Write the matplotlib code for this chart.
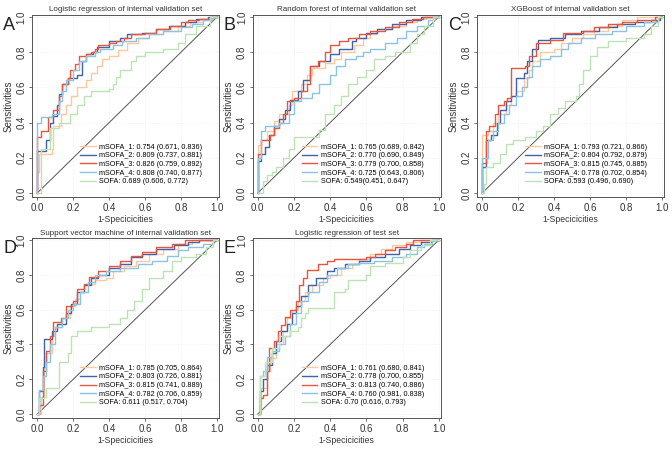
import matplotlib.pyplot as plt

plt.rcParams['font.family'] = ['Liberation Sans', 'DejaVu Sans']

# series names / colours
series = ['mSOFA_1', 'mSOFA_2', 'mSOFA_3', 'mSOFA_4', 'SOFA']
colors = ['#fdc7a0', '#4262a8', '#e8553f', '#8cc3df', '#bde2b4']

# ROC corners (1-specificity, sensitivity)
# panel A - logistic regression, internal validation
A_m1 = [(0, 0), (0, 0.12), (0.01, 0.22), (0.08, 0.25), (0.09, 0.38), (0.13, 0.45), (0.16, 0.50), (0.19, 0.55),
        (0.22, 0.60), (0.27, 0.64), (0.30, 0.68), (0.33, 0.72), (0.36, 0.76), (0.40, 0.78), (0.45, 0.81),
        (0.50, 0.85), (0.56, 0.88), (0.62, 0.90), (0.70, 0.92), (0.78, 0.95), (0.85, 0.97), (0.92, 0.99), (0.97, 1.0), (1, 1)]
A_m2 = [(0, 0), (0, 0.24), (0.05, 0.30), (0.07, 0.40), (0.09, 0.44), (0.11, 0.50), (0.12, 0.56), (0.14, 0.62),
        (0.17, 0.65), (0.22, 0.67), (0.25, 0.75), (0.27, 0.79), (0.31, 0.80), (0.33, 0.83), (0.40, 0.86),
        (0.46, 0.88), (0.50, 0.90), (0.58, 0.91), (0.66, 0.93), (0.73, 0.95), (0.82, 0.97), (0.88, 0.99), (0.95, 1.0), (1, 1)]
A_m3 = [(0, 0), (0, 0.32), (0.02, 0.35), (0.06, 0.43), (0.09, 0.47), (0.12, 0.55), (0.14, 0.62), (0.17, 0.65),
        (0.18, 0.70), (0.21, 0.73), (0.23, 0.78), (0.27, 0.79), (0.30, 0.80), (0.32, 0.82), (0.34, 0.84),
        (0.40, 0.85), (0.44, 0.86), (0.48, 0.88), (0.52, 0.90), (0.60, 0.91), (0.66, 0.93), (0.74, 0.95),
        (0.80, 0.97), (0.84, 0.98), (0.90, 0.99), (0.96, 1.0), (1, 1)]
A_m4 = [(0, 0), (0, 0.40), (0.02, 0.43), (0.08, 0.45), (0.12, 0.52), (0.14, 0.58), (0.16, 0.64), (0.20, 0.70),
        (0.23, 0.75), (0.27, 0.78), (0.32, 0.80), (0.35, 0.82), (0.42, 0.84), (0.47, 0.86), (0.55, 0.88),
        (0.62, 0.90), (0.70, 0.92), (0.80, 0.94), (0.86, 0.96), (0.92, 0.98), (0.97, 1.0), (1, 1)]
A_sofa = [(0, 0), (0.02, 0.25), (0.07, 0.37), (0.12, 0.40), (0.18, 0.45), (0.22, 0.50), (0.26, 0.55), (0.30, 0.58),
          (0.40, 0.59), (0.42, 0.62), (0.44, 0.66), (0.46, 0.70), (0.52, 0.75), (0.55, 0.78), (0.60, 0.80),
          (0.70, 0.82), (0.78, 0.85), (0.82, 0.90), (0.88, 0.95), (0.96, 1.0), (1, 1)]

# panel B - random forest, internal validation
B_m1 = [(0, 0), (0, 0.27), (0.02, 0.30), (0.05, 0.35), (0.09, 0.41), (0.12, 0.45), (0.17, 0.50), (0.19, 0.58),
        (0.24, 0.62), (0.27, 0.67), (0.30, 0.71), (0.37, 0.74), (0.42, 0.76), (0.46, 0.80), (0.53, 0.84),
        (0.58, 0.88), (0.62, 0.90), (0.66, 0.93), (0.74, 0.95), (0.82, 0.97), (0.88, 0.99), (0.93, 1.0), (1, 1)]
B_m2 = [(0, 0), (0, 0.18), (0.02, 0.22), (0.04, 0.26), (0.06, 0.33), (0.09, 0.38), (0.12, 0.42), (0.15, 0.47),
        (0.18, 0.53), (0.22, 0.58), (0.25, 0.64), (0.29, 0.72), (0.34, 0.75), (0.40, 0.79), (0.45, 0.82),
        (0.52, 0.86), (0.54, 0.88), (0.60, 0.91), (0.66, 0.93), (0.74, 0.96), (0.82, 0.98), (0.90, 1.0), (1, 1)]
B_m3 = [(0, 0), (0, 0.22), (0.02, 0.30), (0.07, 0.33), (0.09, 0.37), (0.12, 0.40), (0.14, 0.45), (0.16, 0.52),
        (0.20, 0.54), (0.24, 0.58), (0.27, 0.62), (0.29, 0.72), (0.33, 0.75), (0.37, 0.80), (0.40, 0.84),
        (0.45, 0.86), (0.50, 0.88), (0.56, 0.90), (0.62, 0.92), (0.70, 0.94), (0.78, 0.97), (0.85, 0.99), (0.91, 1.0), (1, 1)]
B_m4 = [(0, 0), (0, 0.20), (0.02, 0.35), (0.04, 0.38), (0.12, 0.40), (0.17, 0.45), (0.20, 0.52), (0.24, 0.54),
        (0.30, 0.57), (0.34, 0.62), (0.40, 0.67), (0.43, 0.72), (0.48, 0.76), (0.54, 0.78), (0.58, 0.80),
        (0.62, 0.82), (0.70, 0.85), (0.77, 0.88), (0.82, 0.92), (0.88, 0.95), (0.94, 0.98), (0.98, 1.0), (1, 1)]
B_sofa = [(0, 0), (0.02, 0.0), (0.03, 0.07), (0.05, 0.10), (0.08, 0.12), (0.10, 0.15), (0.14, 0.20), (0.17, 0.25),
          (0.20, 0.32), (0.30, 0.32), (0.34, 0.36), (0.37, 0.45), (0.42, 0.50), (0.46, 0.55), (0.50, 0.62),
          (0.55, 0.66), (0.60, 0.70), (0.64, 0.76), (0.70, 0.78), (0.76, 0.80), (0.84, 0.85), (0.88, 0.90),
          (0.92, 0.95), (0.97, 1.0), (1, 1)]

# panel C - XGBoost, internal validation
C_m1 = [(0, 0), (0, 0.33), (0.03, 0.35), (0.06, 0.40), (0.09, 0.45), (0.13, 0.50), (0.16, 0.55), (0.19, 0.58),
        (0.23, 0.65), (0.26, 0.70), (0.28, 0.75), (0.32, 0.80), (0.40, 0.82), (0.44, 0.85), (0.50, 0.88),
        (0.56, 0.90), (0.62, 0.92), (0.70, 0.95), (0.78, 0.98), (0.86, 1.0), (1, 1)]
C_m2 = [(0, 0), (0, 0.15), (0.02, 0.30), (0.05, 0.33), (0.08, 0.40), (0.10, 0.47), (0.13, 0.52), (0.16, 0.55),
        (0.19, 0.65), (0.23, 0.68), (0.25, 0.75), (0.28, 0.82), (0.31, 0.87), (0.38, 0.88), (0.46, 0.90),
        (0.55, 0.92), (0.65, 0.94), (0.75, 0.96), (0.85, 0.97), (0.94, 0.98), (0.99, 1.0), (1, 1)]
C_m3 = [(0, 0), (0, 0.17), (0.02, 0.35), (0.04, 0.38), (0.07, 0.45), (0.09, 0.50), (0.12, 0.52), (0.14, 0.54),
        (0.16, 0.71), (0.24, 0.72), (0.26, 0.78), (0.30, 0.85), (0.38, 0.87), (0.45, 0.91), (0.56, 0.92),
        (0.62, 0.94), (0.70, 0.96), (0.78, 0.97), (0.86, 0.98), (0.96, 1.0), (1, 1)]
C_m4 = [(0, 0), (0, 0.20), (0.03, 0.30), (0.06, 0.35), (0.09, 0.40), (0.12, 0.45), (0.15, 0.50), (0.19, 0.55),
        (0.22, 0.60), (0.25, 0.66), (0.28, 0.72), (0.32, 0.76), (0.38, 0.78), (0.44, 0.82), (0.48, 0.85),
        (0.55, 0.88), (0.63, 0.90), (0.72, 0.92), (0.80, 0.95), (0.90, 0.97), (0.98, 1.0), (1, 1)]
C_sofa = [(0, 0), (0.01, 0.05), (0.02, 0.15), (0.06, 0.17), (0.10, 0.22), (0.13, 0.28), (0.17, 0.30), (0.24, 0.32),
          (0.30, 0.35), (0.34, 0.38), (0.38, 0.45), (0.42, 0.48), (0.46, 0.52), (0.52, 0.55), (0.54, 0.62),
          (0.56, 0.70), (0.60, 0.78), (0.64, 0.83), (0.70, 0.86), (0.80, 0.88), (0.90, 0.90), (0.94, 0.95), (0.98, 1.0), (1, 1)]

# panel D - support vector machine, internal validation
D_m1 = [(0, 0), (0.02, 0.10), (0.04, 0.30), (0.05, 0.35), (0.08, 0.45), (0.10, 0.50), (0.14, 0.55), (0.18, 0.62),
        (0.21, 0.66), (0.24, 0.70), (0.28, 0.75), (0.32, 0.77), (0.38, 0.78), (0.42, 0.82), (0.48, 0.85),
        (0.55, 0.88), (0.62, 0.92), (0.70, 0.95), (0.78, 0.98), (0.86, 1.0), (1, 1)]
D_m2 = [(0, 0), (0.01, 0.13), (0.03, 0.27), (0.04, 0.43), (0.08, 0.48), (0.11, 0.52), (0.16, 0.58), (0.19, 0.63),
        (0.22, 0.70), (0.26, 0.74), (0.30, 0.78), (0.34, 0.80), (0.40, 0.84), (0.46, 0.86), (0.52, 0.90),
        (0.58, 0.92), (0.66, 0.95), (0.76, 0.97), (0.84, 0.99), (0.90, 1.0), (1, 1)]
D_m3 = [(0, 0), (0.01, 0.05), (0.03, 0.25), (0.05, 0.36), (0.07, 0.45), (0.09, 0.53), (0.13, 0.55), (0.16, 0.62),
        (0.20, 0.65), (0.22, 0.72), (0.26, 0.75), (0.29, 0.79), (0.34, 0.82), (0.40, 0.85), (0.46, 0.88),
        (0.52, 0.91), (0.58, 0.93), (0.66, 0.96), (0.75, 0.98), (0.82, 1.0), (1, 1)]
D_m4 = [(0, 0), (0.01, 0.14), (0.03, 0.22), (0.05, 0.30), (0.07, 0.40), (0.10, 0.50), (0.14, 0.55), (0.17, 0.60),
        (0.20, 0.63), (0.24, 0.70), (0.28, 0.76), (0.32, 0.80), (0.38, 0.82), (0.46, 0.84), (0.56, 0.86),
        (0.64, 0.88), (0.72, 0.91), (0.78, 0.94), (0.84, 0.96), (0.92, 0.98), (0.98, 1.0), (1, 1)]
D_sofa = [(0, 0), (0.01, 0.09), (0.04, 0.10), (0.05, 0.15), (0.12, 0.30), (0.17, 0.35), (0.19, 0.45), (0.22, 0.48),
          (0.30, 0.50), (0.40, 0.52), (0.46, 0.55), (0.50, 0.60), (0.54, 0.65), (0.58, 0.72), (0.62, 0.78),
          (0.70, 0.82), (0.75, 0.88), (0.80, 0.90), (0.88, 0.92), (0.94, 0.96), (0.98, 1.0), (1, 1)]

# panel E - logistic regression, test set
E_m1 = [(0, 0), (0.02, 0.15), (0.05, 0.25), (0.07, 0.32), (0.10, 0.40), (0.14, 0.48), (0.16, 0.55), (0.19, 0.60),
        (0.22, 0.65), (0.26, 0.70), (0.30, 0.74), (0.36, 0.78), (0.40, 0.80), (0.46, 0.84), (0.52, 0.86),
        (0.56, 0.89), (0.62, 0.92), (0.68, 0.95), (0.74, 0.97), (0.82, 0.99), (0.90, 1.0), (1, 1)]
E_m2 = [(0, 0), (0.01, 0.13), (0.03, 0.20), (0.05, 0.28), (0.08, 0.35), (0.10, 0.42), (0.13, 0.48), (0.16, 0.52),
        (0.19, 0.58), (0.21, 0.62), (0.24, 0.68), (0.28, 0.74), (0.32, 0.78), (0.38, 0.82), (0.42, 0.84),
        (0.48, 0.86), (0.56, 0.88), (0.62, 0.90), (0.70, 0.92), (0.78, 0.95), (0.84, 0.97), (0.90, 0.99), (0.96, 1.0), (1, 1)]
E_m3 = [(0, 0), (0.01, 0.09), (0.03, 0.11), (0.05, 0.25), (0.06, 0.38), (0.09, 0.42), (0.11, 0.48), (0.13, 0.51),
        (0.15, 0.56), (0.18, 0.60), (0.21, 0.65), (0.23, 0.74), (0.25, 0.78), (0.27, 0.83), (0.33, 0.86),
        (0.38, 0.88), (0.42, 0.89), (0.60, 0.90), (0.65, 0.92), (0.70, 0.94), (0.76, 0.96), (0.82, 0.98), (0.86, 1.0), (1, 1)]
E_m4 = [(0, 0), (0.01, 0.22), (0.03, 0.25), (0.05, 0.33), (0.08, 0.36), (0.12, 0.40), (0.15, 0.45), (0.18, 0.52),
        (0.21, 0.58), (0.24, 0.65), (0.28, 0.70), (0.34, 0.76), (0.38, 0.80), (0.44, 0.84), (0.50, 0.86),
        (0.56, 0.87), (0.64, 0.88), (0.74, 0.90), (0.82, 0.92), (0.88, 0.96), (0.92, 0.98), (0.96, 1.0), (1, 1)]
E_sofa = [(0, 0), (0.01, 0.22), (0.04, 0.30), (0.08, 0.38), (0.12, 0.45), (0.18, 0.48), (0.22, 0.50), (0.24, 0.55),
          (0.26, 0.58), (0.28, 0.61), (0.42, 0.70), (0.48, 0.72), (0.50, 0.77), (0.60, 0.80), (0.62, 0.85),
          (0.70, 0.87), (0.80, 0.90), (0.84, 0.94), (0.90, 0.97), (0.95, 1.0), (1, 1)]

A_labels = ['mSOFA_1: 0.754 (0.671, 0.836)', 'mSOFA_2: 0.809 (0.737, 0.881)', 'mSOFA_3: 0.826 (0.759, 0.892)',
            'mSOFA_4: 0.808 (0.740, 0.877)', 'SOFA: 0.689 (0.606, 0.772)']
B_labels = ['mSOFA_1: 0.765 (0.689, 0.842)', 'mSOFA_2: 0.770 (0.690, 0.849)', 'mSOFA_3: 0.779 (0.700, 0.858)',
            'mSOFA_4: 0.725 (0.643, 0.806)', 'SOFA: 0.549(0.451, 0.647)']
C_labels = ['mSOFA_1: 0.793 (0.721, 0.866)', 'mSOFA_2: 0.804 (0.792, 0.879)', 'mSOFA_3: 0.815 (0.745, 0.885)',
            'mSOFA_4: 0.778 (0.702, 0.854)', 'SOFA: 0.593 (0.496, 0.690)']
D_labels = ['mSOFA_1: 0.785 (0.705, 0.864)', 'mSOFA_2: 0.803 (0.726, 0.881)', 'mSOFA_3: 0.815 (0.741, 0.889)',
            'mSOFA_4: 0.782 (0.706, 0.859)', 'SOFA: 0.611 (0.517, 0.704)']
E_labels = ['mSOFA_1: 0.761 (0.680, 0.841)', 'mSOFA_2: 0.778 (0.700, 0.855)', 'mSOFA_3: 0.813 (0.740, 0.886)',
            'mSOFA_4: 0.760 (0.981, 0.838)', 'SOFA: 0.70 (0.616, 0.793)']

panels = [
    ('A', 'Logistic regression of internal validation set', [A_m1, A_m2, A_m3, A_m4, A_sofa], A_labels, [0.048, 0.563, 0.278, 0.404]),
    ('B', 'Random forest of internal validation set', [B_m1, B_m2, B_m3, B_m4, B_sofa], B_labels, [0.376, 0.563, 0.280, 0.404]),
    ('C', 'XGBoost of internal validation set', [C_m1, C_m2, C_m3, C_m4, C_sofa], C_labels, [0.710, 0.563, 0.278, 0.404]),
    ('D', 'Support vector machine of internal validation set', [D_m1, D_m2, D_m3, D_m4, D_sofa], D_labels, [0.048, 0.073, 0.278, 0.399]),
    ('E', 'Logistic regression of test set', [E_m1, E_m2, E_m3, E_m4, E_sofa], E_labels, [0.376, 0.073, 0.280, 0.399]),
]

fig = plt.figure(figsize=(6.72, 4.51), dpi=100)

for letter, title, curves, labels, pos in panels:
    ax = fig.add_axes(pos)
    ticks = [0.0, 0.2, 0.4, 0.6, 0.8, 1.0]
    for t in ticks:
        ax.axhline(t, color='#ececec', lw=0.5, ls=':', zorder=0)
        ax.axvline(t, color='#ececec', lw=0.5, ls=':', zorder=0)
    ax.plot([0, 1], [0, 1], color='#555555', lw=0.7, zorder=1)
    # draw SOFA first so the mSOFA lines sit on top
    order = [4, 0, 3, 1, 2]
    for i in order:
        xs = [p[0] for p in curves[i]]
        ys = [p[1] for p in curves[i]]
        ax.step(xs, ys, where='post', color=colors[i], lw=1.0, label=labels[i], zorder=2 + i)
    handles, labs = ax.get_legend_handles_labels()
    hl = sorted(zip(handles, labs), key=lambda h: labels.index(h[1]))
    ax.legend([h for h, l in hl], [l for h, l in hl], loc='lower right', bbox_to_anchor=(0.93, 0.045),
              frameon=False, fontsize=5.2, handlelength=2.1, handletextpad=0.5, labelspacing=0.22,
              borderpad=0.0)
    ax.set_xlim(-0.028, 1.011)
    ax.set_ylim(-0.023, 1.011)
    ax.set_xticks(ticks)
    ax.set_yticks(ticks)
    ax.set_xticklabels(['%.1f' % t for t in ticks], fontsize=7, color='#333333')
    ax.set_yticklabels(['%.1f' % t for t in ticks], fontsize=7, color='#333333', rotation=90, va='center')
    ax.tick_params(length=2.5, width=0.6, color='#555555', pad=1.5)
    for s in ax.spines.values():
        s.set_linewidth(0.7)
        s.set_color('#555555')
    ax.set_xlabel('1-Specicicities', fontsize=6.2, color='#333333', labelpad=1.5)
    ax.set_ylabel('Sensitivities', fontsize=7, color='#333333', labelpad=2.5)
    ax.set_title(title, fontsize=5.8, color='#333333', pad=2.5)
    fig.text(pos[0] - 0.043, pos[1] + pos[3] - 0.005, letter, fontsize=13, color='#222222', va='top', ha='left')

fig.savefig('out.png', dpi=100)
